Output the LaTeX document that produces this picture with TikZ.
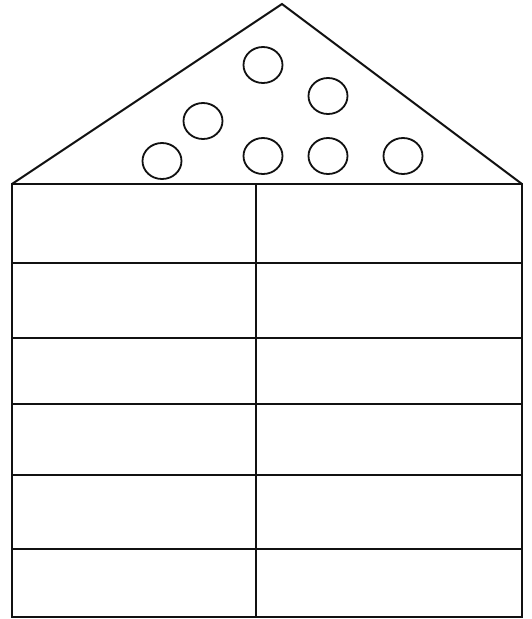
\documentclass[tikz,border=0pt]{standalone}
\usepackage{tikz}
\usetikzlibrary{positioning,calc}
\definecolor{inkc}{HTML}{111111}
\tikzset{
  wall/.style={draw=inkc,line width=2.2pt,line join=miter},
  roofline/.style={draw=inkc,line width=2pt,line join=miter},
  pebble/.style={draw=inkc,line width=1.8pt},
}

\begin{document}
\begin{tikzpicture}[x=1pt,y=-1pt]
  \useasboundingbox (0,0) rectangle (531,619);
  % roof corners
  \coordinate (apex) at (282,4);
  \coordinate (eaveL) at (12,184);
  \coordinate (eaveR) at (522,184);
  \coordinate (baseL) at (12,617);
  \coordinate (baseR) at (522,617);
  \coordinate (midT) at (256,184);
  \coordinate (midB) at (256,617);
  \draw[roofline] (eaveL) -- (apex) -- (eaveR);
  % circles in the roof
  \foreach \cx/\cy [count=\i] in {263/65,328/96,203/121,162/161,263/156,328/156,403/156}
    \draw[pebble] (\cx,\cy) ellipse (19.5 and 18);
  % the wall: 6 rows, 2 columns
  \draw[wall] (eaveL) rectangle (baseR);
  \draw[wall] (midT) -- (midB);
  \foreach \ry in {263,338,404,475,549}
    \draw[wall] (eaveL |- 0,\ry) -- (eaveR |- 0,\ry);
\end{tikzpicture}
\end{document}
